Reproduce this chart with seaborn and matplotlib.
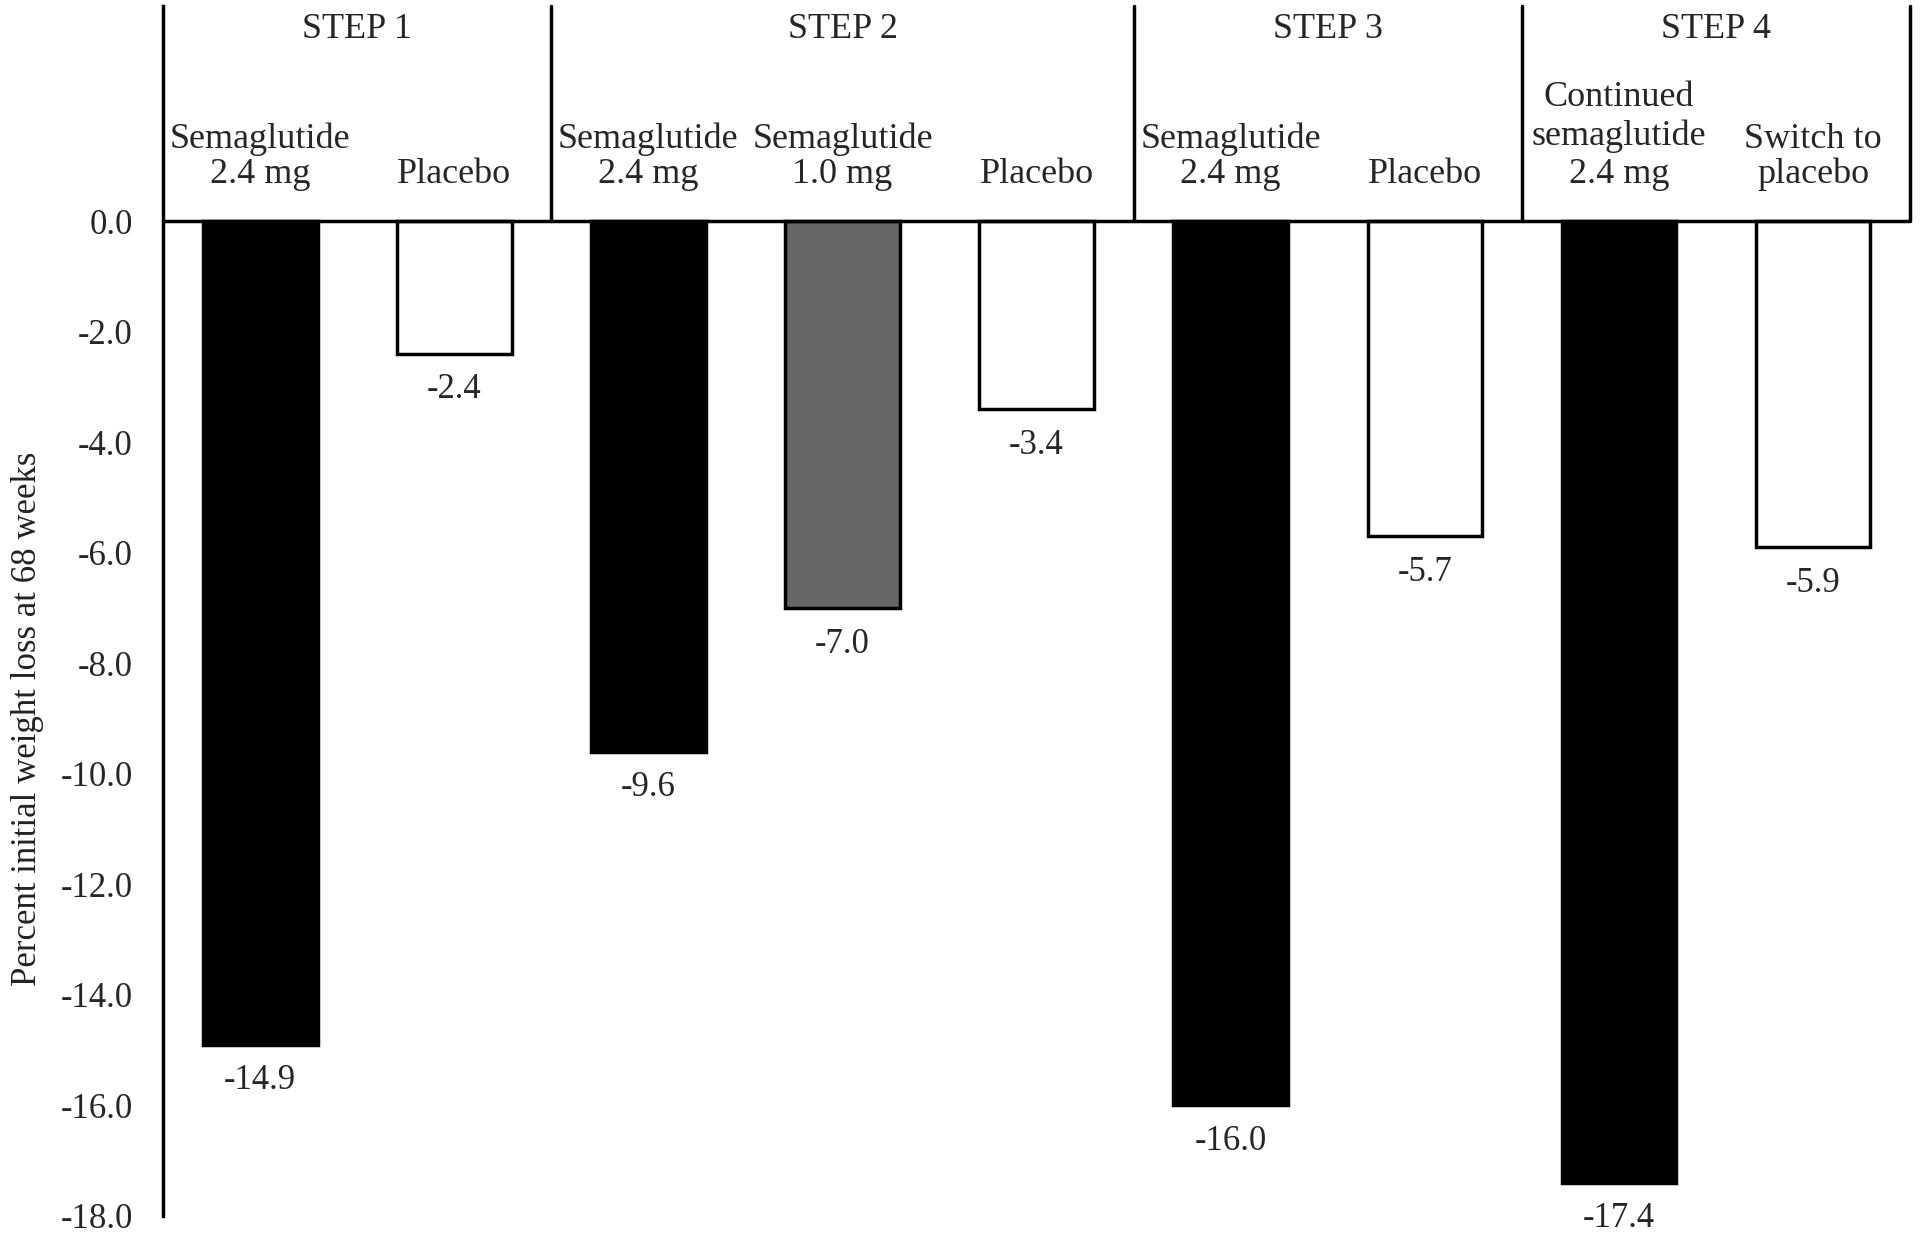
import numpy as np
import matplotlib
matplotlib.use("Agg")
import matplotlib.pyplot as plt
import seaborn as sns
import pandas as pd

# Datos del gráfico
estudios = ["STEP 1", "STEP 2", "STEP 3", "STEP 4"]
brazos = [
    "Semaglutide\n2.4 mg", "Placebo",
    "Semaglutide\n2.4 mg", "Semaglutide\n1.0 mg", "Placebo",
    "Semaglutide\n2.4 mg", "Placebo",
    "Continued\nsemaglutide\n2.4 mg", "Switch to\nplacebo",
]
estudio_de_brazo = ["STEP 1", "STEP 1", "STEP 2", "STEP 2", "STEP 2",
                    "STEP 3", "STEP 3", "STEP 4", "STEP 4"]
perdida_peso = [-14.9, -2.4, -9.6, -7.0, -3.4, -16.0, -5.7, -17.4, -5.9]
tipo = ["sema", "placebo", "sema", "sema_low", "placebo",
        "sema", "placebo", "sema", "placebo"]
yticks = [0, -2, -4, -6, -8, -10, -12, -14, -16, -18]

colores = {"sema": "#000000", "sema_low": "#666666", "placebo": "#ffffff"}

df = pd.DataFrame({
    "id": [str(i) for i in range(len(brazos))],
    "brazo": brazos,
    "estudio": estudio_de_brazo,
    "valor": perdida_peso,
    "tipo": tipo,
})

sns.set_style("white")
plt.rcParams['font.family'] = ['Liberation Serif', 'DejaVu Serif']

fig = plt.figure(figsize=(19.2, 12.4), dpi=100)
ax = fig.add_axes([0.085, 0.0194, 0.9098, 0.9758])

sns.barplot(data=df, x="id", y="valor", hue="tipo", palette=colores,
            dodge=False, width=0.59, legend=False, ax=ax)

# Bordes: negro en todas las barras
for patch in ax.patches:
    patch.set_edgecolor("black")
    patch.set_linewidth(2.5)

ax.set_xlim(-0.5, len(brazos) - 0.5)
ax.set_ylim(-18, 3.9)

# Etiquetas de valores
for i, v in enumerate(perdida_peso):
    ax.annotate(f"{v:.1f}", xy=(i, v), xytext=(0, -14), textcoords="offset points",
                ha="center", va="top", fontsize=25)

# Cabecera: líneas y textos
ax.axhline(0, color="black", lw=2.5, zorder=5)
limites = [0]
for i in range(1, len(estudio_de_brazo)):
    if estudio_de_brazo[i] != estudio_de_brazo[i - 1]:
        limites.append(i)
limites.append(len(estudio_de_brazo))
for b in limites[1:]:
    ax.plot([b - 0.5, b - 0.5], [0, 3.9], color="black", lw=2.5, clip_on=False)
for k, est in enumerate(estudios):
    centro = (limites[k] + limites[k + 1] - 1) / 2
    ax.text(centro, 3.48, est, ha="center", va="center", fontsize=26)
for i, b in enumerate(brazos):
    esp = 1.2 if b.count("\n") > 1 else 1.08
    ax.text(i, 0.55, b, ha="center", va="bottom", fontsize=26,
            linespacing=esp, multialignment="center")

# Ejes
sns.despine(ax=ax, top=True, right=True, bottom=True)
ax.spines["left"].set_linewidth(2.5)
ax.spines["left"].set_color("black")
ax.set_xticks([])
ax.set_xlabel("")
ax.set_yticks(yticks)
ax.set_yticklabels([f"{t:.1f}" for t in yticks], fontsize=25)
ax.tick_params(axis="y", length=0, pad=22)
ax.set_ylabel("Percent initial weight loss at 68 weeks", fontsize=25, color="#222222")
ax.yaxis.set_label_coords(-0.068, 0.411)

plt.savefig("out.png", dpi=100)
